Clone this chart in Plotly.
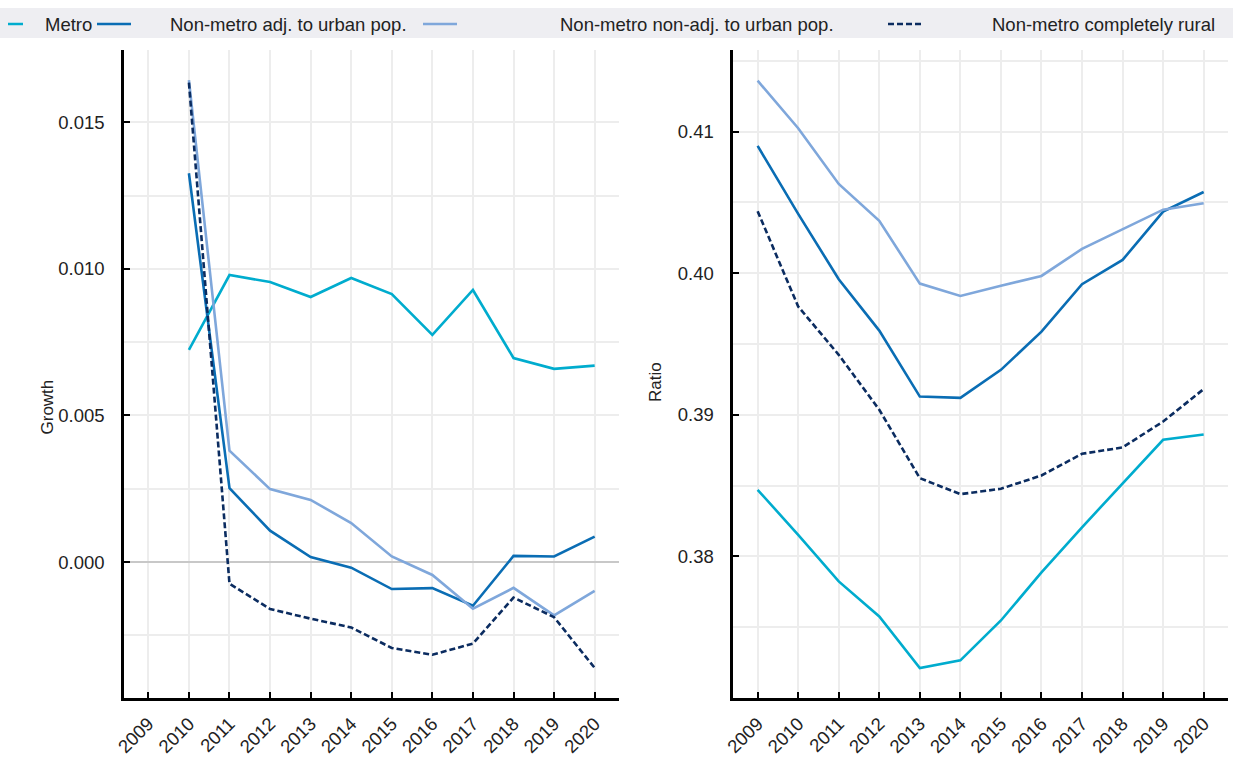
import plotly.graph_objects as go

# ---------------- data ----------------
years = [2009, 2010, 2011, 2012, 2013, 2014, 2015, 2016, 2017, 2018, 2019, 2020]
year_labels = [str(y) for y in years]

series_names = ["Metro", "Non-metro adj. to urban pop.",
                "Non-metro non-adj. to urban pop.", "Non-metro completely rural"]

growth_metro = [None, 0.00724, 0.00979, 0.00955, 0.00904, 0.00969, 0.00914, 0.00775, 0.00928, 0.00696, 0.00659, 0.00670]
growth_adj = [None, 0.01326, 0.00252, 0.00107, 0.00017, -0.00019, -0.00092, -0.00089, -0.00149, 0.00021, 0.00019, 0.00087]
growth_nonadj = [None, 0.01644, 0.00380, 0.00249, 0.00212, 0.00133, 0.00019, -0.00044, -0.00159, -0.00088, -0.00182, -0.00098]
growth_rural = [None, 0.01635, -0.00074, -0.00160, -0.00193, -0.00223, -0.00293, -0.00316, -0.00278, -0.00121, -0.00188, -0.00361]

ratio_metro = [0.38471, 0.38153, 0.37824, 0.37576, 0.37212, 0.37266, 0.37548, 0.37887, 0.38206, 0.38513, 0.38824, 0.38861]
ratio_adj = [0.40899, 0.40419, 0.39958, 0.39595, 0.39129, 0.39120, 0.39318, 0.39588, 0.39923, 0.40094, 0.40435, 0.40574]
ratio_nonadj = [0.41360, 0.41024, 0.40631, 0.40370, 0.39927, 0.39840, 0.39911, 0.39981, 0.40172, 0.40313, 0.40449, 0.40494]
ratio_rural = [0.40438, 0.39765, 0.39424, 0.39036, 0.38553, 0.38440, 0.38478, 0.38572, 0.38725, 0.38770, 0.38953, 0.39182]

growth_ticks = [0.0, 0.005, 0.010, 0.015]
growth_ticktext = ["0.000", "0.005", "0.010", "0.015"]
ratio_ticks = [0.38, 0.39, 0.40, 0.41]
ratio_ticktext = ["0.38", "0.39", "0.40", "0.41"]

# ---------------- style ----------------
W, H = 1233, 757
colors = ["#00ACCE", "#0A6DB4", "#7FA7DB", "#0B2C60"]
dashes = ["solid", "solid", "solid", "6px,3px"]
FONT = "Liberation Sans, Arial, sans-serif"
FS = 18.5
GRID = "#EDEDED"


def px_x(p):
    return p / W


def px_y(p):
    return 1 - p / H


fig = go.Figure()
growth_series = [growth_metro, growth_adj, growth_nonadj, growth_rural]
ratio_series = [ratio_metro, ratio_adj, ratio_nonadj, ratio_rural]
for i, name in enumerate(series_names):
    fig.add_trace(go.Scatter(x=years, y=growth_series[i], mode="lines", name=name,
                             line=dict(color=colors[i], width=2.6, dash=dashes[i]),
                             xaxis="x", yaxis="y", showlegend=False))
for i, name in enumerate(series_names):
    fig.add_trace(go.Scatter(x=years, y=ratio_series[i], mode="lines", name=name,
                             line=dict(color=colors[i], width=2.6, dash=dashes[i]),
                             xaxis="x2", yaxis="y2", showlegend=False))

top_px, bot_px = 50, 698
ydom = [px_y(bot_px), px_y(top_px)]

common_x = dict(range=[2008.4, 2020.6], tickmode="array", tickvals=years, ticktext=year_labels,
                tickangle=-45, ticks="inside", ticklen=6, tickwidth=1.5, tickcolor="black",
                showline=True, linecolor="black", linewidth=2.5, showgrid=True, gridcolor=GRID,
                gridwidth=1.5, zeroline=False, automargin=False, ticklabelstandoff=5,
                tickfont=dict(family=FONT, size=FS, color="#222"))
common_y = dict(ticks="inside", ticklen=6, tickwidth=1.5, tickcolor="black", showline=True,
                linecolor="black", linewidth=2.5, showgrid=True, gridcolor=GRID, gridwidth=1.5,
                automargin=False, tickfont=dict(family=FONT, size=FS, color="#222"),
                ticklabelstandoff=13)

fig.update_layout(
    width=W, height=H, margin=dict(l=0, r=0, t=0, b=0, autoexpand=False),
    paper_bgcolor="white", plot_bgcolor="white",
    font=dict(family=FONT, size=FS, color="#222"),
    xaxis=dict(domain=[px_x(124), px_x(619)], anchor="y", **common_x),
    yaxis=dict(domain=ydom, anchor="x", range=[-0.004636, 0.017465], tickmode="array",
               tickvals=growth_ticks, ticktext=growth_ticktext,
               minor=dict(dtick=0.0025, tick0=0, showgrid=True, gridcolor=GRID, gridwidth=1.5, ticks=""),
               zeroline=True, zerolinecolor="#C8C8C8", zerolinewidth=2, **common_y),
    xaxis2=dict(domain=[px_x(733.3), px_x(1228)], anchor="y2", **common_x),
    yaxis2=dict(domain=ydom, anchor="x2", range=[0.370005, 0.415766], tickmode="array",
                tickvals=ratio_ticks, ticktext=ratio_ticktext,
                minor=dict(dtick=0.005, tick0=0.38, showgrid=True, gridcolor=GRID, gridwidth=1.5, ticks=""),
                zeroline=False, **common_y),
)

# axis titles
fig.add_annotation(text="Growth", x=px_x(35), y=px_y(407), xref="paper", yref="paper",
                   textangle=-90, showarrow=False, font=dict(family=FONT, size=17, color="#222"))
fig.add_annotation(text="Ratio", x=px_x(655), y=px_y(382), xref="paper", yref="paper",
                   textangle=-90, showarrow=False, font=dict(family=FONT, size=17, color="#222"))

# legend band
fig.add_shape(type="rect", xref="paper", yref="paper", x0=0, x1=1, y0=px_y(38), y1=px_y(8),
              fillcolor="#EEEEF2", line=dict(width=0), layer="below")
leg_key = [(8, 23), (97, 131), (423, 457), (888, 922)]
leg_text_x = [43, 168, 558, 990]
leg_y = 24
for i, name in enumerate(series_names):
    fig.add_shape(type="line", xref="paper", yref="paper",
                  x0=px_x(leg_key[i][0]), x1=px_x(leg_key[i][1]), y0=px_y(leg_y), y1=px_y(leg_y),
                  line=dict(color=colors[i], width=2.5, dash=dashes[i]))
    fig.add_annotation(text=name, x=px_x(leg_text_x[i]), y=px_y(leg_y), xref="paper", yref="paper",
                       xanchor="left", yanchor="middle", showarrow=False,
                       font=dict(family=FONT, size=FS, color="#222"))

fig.write_html("out.html", config={"displayModeBar": False},
               post_script="document.body.style.margin='0';")
